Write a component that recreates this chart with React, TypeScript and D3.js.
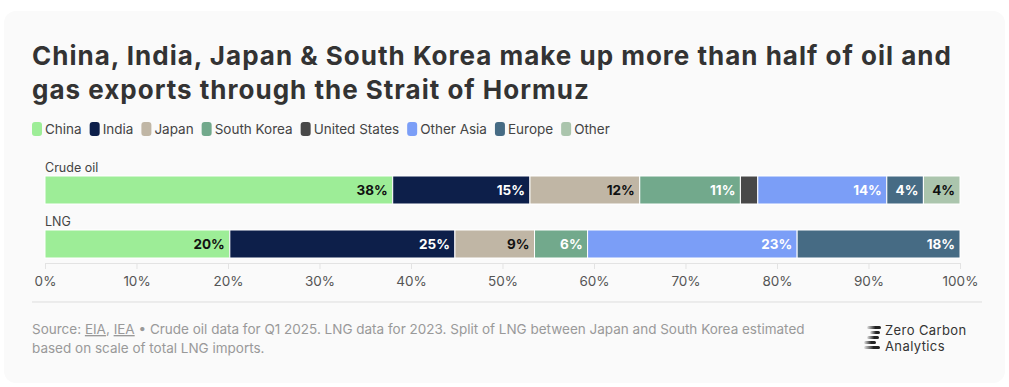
import React, { useEffect, useRef } from 'react';
import * as d3 from 'd3';

// Categories (legend order = stacking order)
const regions = ['China', 'India', 'Japan', 'South Korea', 'United States', 'Other Asia', 'Europe', 'Other'];
const regionColors = ['#9ded97', '#0d1f4a', '#c0b6a5', '#72a98c', '#484848', '#7b9ef7', '#466b84', '#abc5ad'];
const darkText = ['China', 'Japan', 'Other'];

const products = ['Crude oil', 'LNG'];
// share of exports (%) per region, same order as `regions`
const crudeOil = [38.0, 15.0, 12.0, 11.0, 1.9, 14.1, 4.0, 4.0];
const lng = [20.2, 24.6, 8.7, 5.8, 0, 22.9, 17.8, 0];

const xTicks = [0, 10, 20, 30, 40, 50, 60, 70, 80, 90, 100];

const FONT = 'Inter, "DejaVu Sans", sans-serif';

const App = () => {
  const ref = useRef<SVGSVGElement | null>(null);

  useEffect(() => {
    document.body.style.margin = '0';
    const svg = d3.select(ref.current);
    svg.selectAll('*').remove();

    svg.append('rect')
      .attr('x', 4).attr('y', 11).attr('width', 1001).attr('height', 372)
      .attr('rx', 12).attr('fill', '#fafafa');

    // title
    const title = svg.append('text')
      .attr('font-family', FONT).attr('font-weight', 700).attr('font-size', 26)
      .attr('letter-spacing', 1).attr('fill', '#333');
    title.append('tspan').attr('x', 32).attr('y', 65)
      .text('China, India, Japan & South Korea make up more than half of oil and');
    title.append('tspan').attr('x', 32).attr('y', 99)
      .text('gas exports through the Strait of Hormuz');

    // legend
    let lx = 32;
    regions.forEach((r, i) => {
      const g = svg.append('g');
      g.append('rect').attr('x', lx).attr('y', 122).attr('width', 10).attr('height', 14)
        .attr('rx', 3).attr('fill', regionColors[i]);
      const t = g.append('text').attr('x', lx + 13).attr('y', 134)
        .attr('font-family', FONT).attr('font-size', 13.5)
        .attr('fill', '#444').text(r);
      const w = (t.node() as SVGTextElement).getComputedTextLength();
      lx += 13 + w + 8;
    });

    const x = d3.scaleLinear().domain([0, 100]).range([45, 960]);
    const y = d3.scaleBand().domain(products).range([176, 284]);
    const barH = 28;

    const rows = [crudeOil, lng];
    const color = d3.scaleOrdinal<string, string>().domain(regions).range(regionColors);

    rows.forEach((vals, ri) => {
      const p = products[ri];
      const top = y(p) as number;
      svg.append('text').attr('x', 45).attr('y', top - 4)
        .attr('font-family', FONT).attr('font-size', 12.5).attr('fill', '#444').text(p);
      const stacked = d3.cumsum(vals);
      vals.forEach((v, i) => {
        if (v <= 0) return;
        const x0 = x(stacked[i] - v);
        const x1 = x(stacked[i]);
        svg.append('rect')
          .attr('x', x0).attr('y', top).attr('width', x1 - x0).attr('height', barH)
          .attr('fill', color(regions[i])).attr('stroke', '#ffffff').attr('stroke-width', 1);
        if (v >= 3) {
          svg.append('text')
            .attr('x', x1 - 5).attr('y', top + barH / 2 + 5)
            .attr('text-anchor', 'end')
            .attr('font-family', FONT).attr('font-weight', 700).attr('font-size', 13.5)
            .attr('fill', darkText.includes(regions[i]) ? '#111' : '#fff')
            .text(`${Math.round(v)}%`);
        }
      });
    });

    // x axis
    const axis = svg.append('g').attr('transform', 'translate(0,263)')
      .call(d3.axisBottom(x).tickValues(xTicks).tickSize(6).tickPadding(7).tickFormat(d => `${d}%`));
    axis.select('.domain').attr('stroke', '#e3e3e3');
    axis.selectAll('.tick line').attr('stroke', '#e3e3e3');
    axis.selectAll('.tick text').attr('fill', '#555').attr('font-size', 13.5).attr('font-family', FONT);

    svg.append('line').attr('x1', 32).attr('x2', 982).attr('y1', 302).attr('y2', 302)
      .attr('stroke', '#dddddd');

    // source
    const src = svg.append('text').attr('font-family', FONT).attr('font-size', 13.5)
      .attr('fill', '#999');
    const l1 = src.append('tspan').attr('x', 32).attr('y', 334);
    l1.append('tspan').text('Source: ');
    l1.append('tspan').attr('text-decoration', 'underline').text('EIA');
    l1.append('tspan').text(', ');
    l1.append('tspan').attr('text-decoration', 'underline').text('IEA');
    l1.append('tspan').text(' • Crude oil data for Q1 2025. LNG data for 2023. Split of LNG between Japan and South Korea estimated');
    src.append('tspan').attr('x', 32).attr('y', 353).text('based on scale of total LNG imports.');

    // logo
    const defs = svg.append('defs');
    const grad = defs.append('linearGradient').attr('id', 'zca');
    grad.append('stop').attr('offset', '0%').attr('stop-color', '#222').attr('stop-opacity', 0.1);
    grad.append('stop').attr('offset', '60%').attr('stop-color', '#222').attr('stop-opacity', 1);
    const logo = svg.append('g').attr('transform', 'translate(864,326)');
    [[3, 0, 14], [6, 5, 10], [3, 10, 12], [0, 15, 12], [0, 20, 16]].forEach(([dx, dy, w]) => {
      logo.append('rect').attr('x', dx).attr('y', dy).attr('width', w).attr('height', 3)
        .attr('rx', 1.5).attr('fill', 'url(#zca)');
    });
    const lt = svg.append('text').attr('font-family', FONT).attr('font-size', 13)
      .attr('letter-spacing', 0.4).attr('fill', '#333');
    lt.append('tspan').attr('x', 885).attr('y', 335).text('Zero Carbon');
    lt.append('tspan').attr('x', 885).attr('y', 351).text('Analytics');
  }, []);

  return <svg ref={ref} width={1009} height={387} style={{ display: 'block', background: '#fff' }} />;
};

export default App;
